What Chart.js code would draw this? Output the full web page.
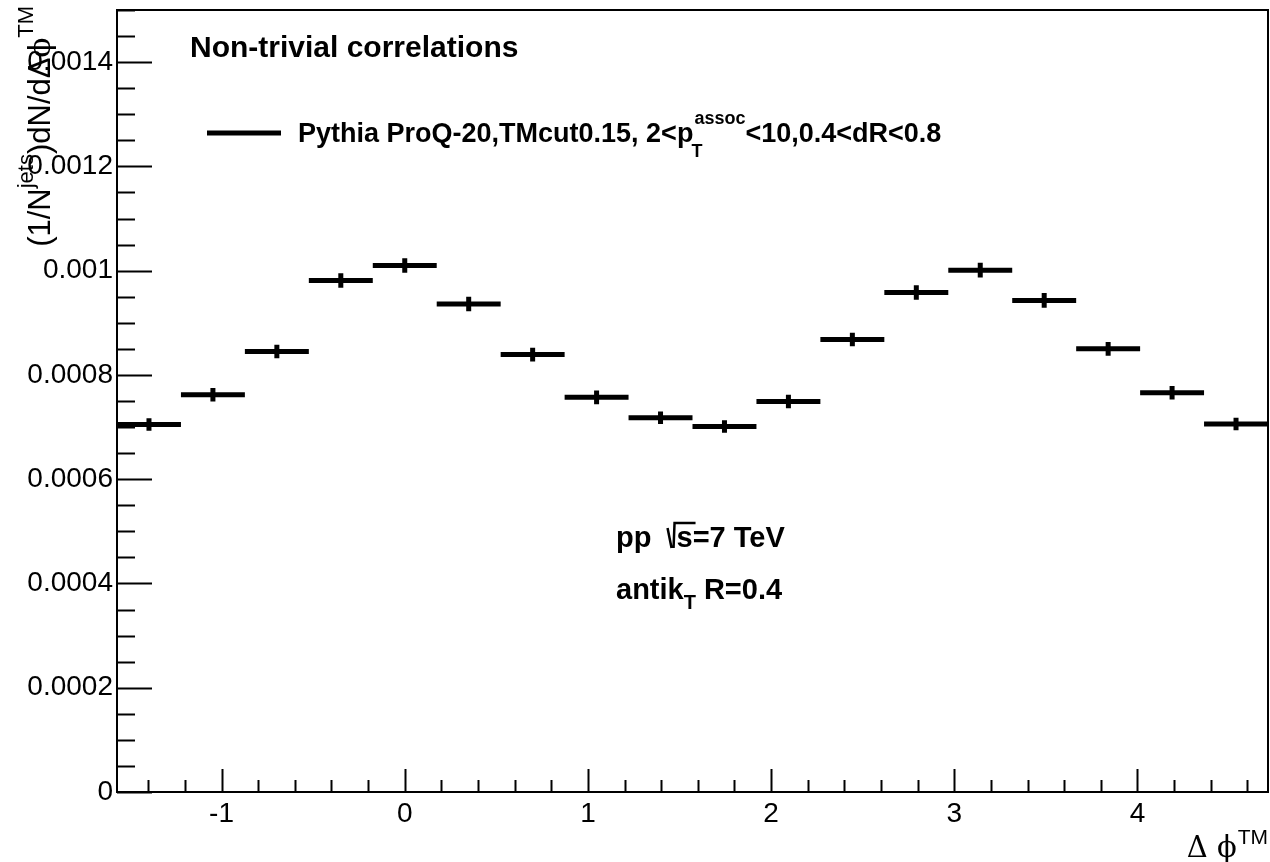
<!DOCTYPE html>
<html>
<head>
<meta charset="utf-8">
<script src="https://cdn.jsdelivr.net/npm/chart.js@4.4.1/dist/chart.umd.min.js"></script>
<style>
html,body{margin:0;padding:0;background:#fff;}
canvas{display:block;}
</style>
</head>
<body>
<canvas id="c" width="1270" height="862"></canvas>
<script>
// ---- data ----
const binEdges = [-1.5708, -1.2217, -0.8727, -0.5236, -0.1745, 0.1745, 0.5236, 0.8727, 1.2217, 1.5708,
                  1.9199, 2.2689, 2.6180, 2.9671, 3.3161, 3.6652, 4.0143, 4.3633, 4.7124];
const values = [0.000705, 0.000762, 0.000845, 0.000981, 0.001010, 0.000936, 0.000839, 0.000757, 0.000718,
                0.000701, 0.000749, 0.000868, 0.000958, 0.001001, 0.000943, 0.000850, 0.000766, 0.000706];
const errors = [0.000012, 0.000013, 0.000013, 0.000014, 0.000014, 0.000014, 0.000013, 0.000013, 0.000012,
                0.000012, 0.000013, 0.000013, 0.000014, 0.000014, 0.000014, 0.000013, 0.000013, 0.000012];
const xRange = [-Math.PI / 2, 3 * Math.PI / 2];
const yRange = [0, 0.0015];
const titleText = 'Non-trivial correlations';
const legendText = ['Pythia ProQ-20,TMcut0.15, 2<p', 'T', 'assoc', '<10,0.4<dR<0.8'];

// ---- build datasets ----
const barPts = [];
const errPts = [];
for (let i = 0; i < values.length; i++) {
  const lo = binEdges[i], hi = binEdges[i + 1], c = (lo + hi) / 2;
  barPts.push({x: lo, y: values[i]}, {x: hi, y: values[i]}, {x: hi, y: null});
  errPts.push({x: c, y: values[i] - errors[i]}, {x: c, y: values[i] + errors[i]}, {x: c, y: null});
}

const SANS = '"Liberation Sans", Arial, Helvetica, sans-serif';
const SERIF = '"DejaVu Serif", "Liberation Serif", serif';

const annot = {
  id: 'annot',
  afterDraw(chart) {
    const {ctx, chartArea: a, scales: {x, y}} = chart;
    ctx.save();
    ctx.strokeStyle = '#000';
    ctx.fillStyle = '#000';
    ctx.lineWidth = 2;
    // frame
    ctx.strokeRect(a.left, a.top, a.right - a.left, a.bottom - a.top);
    // y ticks
    for (let i = 0; i <= 30; i++) {
      const v = i * 0.00005;
      const py = Math.round(y.getPixelForValue(v)) + 0.5;
      const len = (i % 4 === 0) ? 35 : 18;
      ctx.beginPath(); ctx.moveTo(a.left, py); ctx.lineTo(a.left + len, py); ctx.stroke();
    }
    // x ticks
    for (let i = -7; i <= 23; i++) {
      const v = i * 0.2;
      if (v < xRange[0] || v > xRange[1]) continue;
      const px = Math.round(x.getPixelForValue(v)) + 0.5;
      const len = (i % 5 === 0) ? 23 : 12;
      ctx.beginPath(); ctx.moveTo(px, a.bottom); ctx.lineTo(px, a.bottom - len); ctx.stroke();
    }
    // title
    ctx.textBaseline = 'alphabetic';
    ctx.textAlign = 'left';
    ctx.font = 'bold 30px ' + SANS;
    ctx.fillText(titleText, 190, 57);
    // legend
    ctx.lineWidth = 5;
    ctx.beginPath(); ctx.moveTo(207, 133); ctx.lineTo(281, 133); ctx.stroke();
    let lx = 298;
    const lb = 142;
    ctx.font = 'bold 27px ' + SANS;
    ctx.fillText(legendText[0], lx, lb);
    lx += ctx.measureText(legendText[0]).width;
    ctx.font = 'bold 18px ' + SANS;
    ctx.fillText(legendText[1], lx - 2, lb + 15);
    ctx.fillText(legendText[2], lx + 1, lb - 18);
    const supW = ctx.measureText(legendText[2]).width;
    ctx.font = 'bold 27px ' + SANS;
    ctx.fillText(legendText[3], lx + 1 + supW, lb);
    // pp text
    ctx.font = 'bold 29px ' + SANS;
    ctx.fillText('pp', 616, 547);
    let px2 = 616 + ctx.measureText('pp  ').width;
    ctx.lineWidth = 2.5;
    ctx.beginPath();
    ctx.moveTo(px2, 528); ctx.lineTo(px2 + 4, 548); ctx.moveTo(px2 + 6, 548); ctx.lineTo(px2 + 7, 523); ctx.lineTo(px2 + 28, 523);
    ctx.stroke();
    ctx.fillText('s=7 TeV', px2 + 9, 547);
    ctx.fillText('antik', 616, 599);
    let ax = 616 + ctx.measureText('antik').width;
    ctx.font = 'bold 20px ' + SANS;
    ctx.fillText('T', ax, 609);
    ax += ctx.measureText('T').width + 8;
    ctx.font = 'bold 29px ' + SANS;
    ctx.fillText('R=0.4', ax, 599);
    // x axis title
    ctx.textAlign = 'right';
    ctx.font = '21px ' + SANS;
    const tmW = ctx.measureText('TM').width;
    ctx.fillText('TM', 1268, 844);
    ctx.font = '29px ' + SERIF;
    ctx.fillText('\u0394 \u03D5', 1268 - tmW - 1, 857);
    // y axis title (rotated)
    ctx.translate(50, 6);
    ctx.rotate(-Math.PI / 2);
    ctx.textAlign = 'left';
    const parts = [
      ['(1/N', 31, 0, SANS], ['jets', 22, -17, SANS], [')', 31, 0, SANS], ['dN/d\u0394', 31, 0, SANS],
      ['\u03D5', 29, 0, SERIF], ['TM', 22, -17, SANS]
    ];
    let tot = 0;
    parts.forEach(p => { ctx.font = p[1] + 'px ' + p[3]; tot += ctx.measureText(p[0]).width; });
    let tx = -tot;
    parts.forEach(p => {
      ctx.font = p[1] + 'px ' + p[3];
      ctx.fillText(p[0], tx, p[2]);
      tx += ctx.measureText(p[0]).width;
    });
    ctx.restore();
  }
};

new Chart(document.getElementById('c'), {
  type: 'line',
  data: {
    datasets: [
      {data: barPts, borderColor: '#000', borderWidth: 5, pointRadius: 0, spanGaps: false, borderCapStyle: 'butt', tension: 0},
      {data: errPts, borderColor: '#000', borderWidth: 5, pointRadius: 0, spanGaps: false, borderCapStyle: 'butt', tension: 0}
    ]
  },
  options: {
    responsive: false,
    devicePixelRatio: 1,
    animation: false,
    events: [],
    layout: {padding: {top: 10, right: 2, left: 0, bottom: 0}},
    plugins: {legend: {display: false}, tooltip: {enabled: false}},
    scales: {
      x: {
        type: 'linear', min: xRange[0], max: xRange[1],
        grid: {display: false, drawTicks: false, tickLength: 0}, border: {display: false},
        ticks: {stepSize: 1, includeBounds: false, color: '#000', font: {family: SANS, size: 28}, padding: 5,
                maxRotation: 0, callback: v => String(v)},
        afterFit: s => { s.height = 70; s.paddingLeft = 0; s.paddingRight = 0; }
      },
      y: {
        type: 'linear', min: yRange[0], max: yRange[1],
        grid: {display: false, drawTicks: false, tickLength: 0}, border: {display: false},
        ticks: {stepSize: 0.0002, includeBounds: false, color: '#000', font: {family: SANS, size: 28}, padding: 4,
                callback: v => String(parseFloat(v.toFixed(6)))},
        afterFit: s => { s.width = 117; s.paddingTop = 0; s.paddingBottom = 0; }
      }
    }
  },
  plugins: [annot]
});
</script>
</body>
</html>
